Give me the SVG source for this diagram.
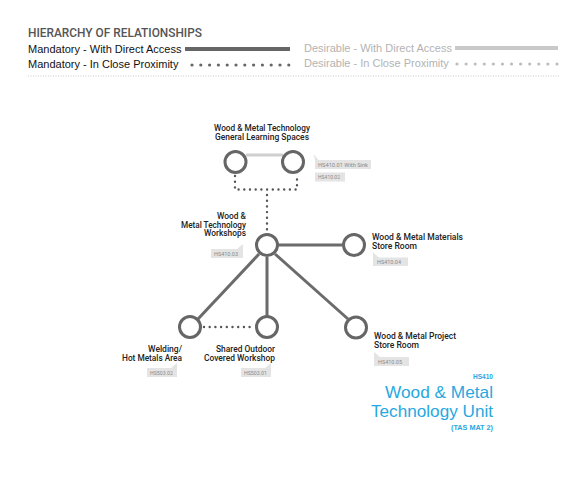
<svg xmlns="http://www.w3.org/2000/svg" width="565" height="490" viewBox="0 0 565 490">
<style>
.leg{font-family:"Liberation Sans",Arial,sans-serif;font-size:11px}
.mand{fill:#111}
.des{fill:#b3b3b3}
.lbl{font-family:Roboto,"Liberation Sans",sans-serif;font-weight:500;font-size:9px;fill:#222}
.tag{fill:#e4e4e4}
.tagt{font-family:Roboto,"Liberation Sans",sans-serif;font-size:5.5px;fill:#8a8a8a}
.node{fill:#fff;stroke:#666;stroke-width:3}
.solid{stroke:#6b6b6b;stroke-width:3;fill:none}
.light{stroke:#cfcfcf;stroke-width:3;fill:none}
.dots{stroke:#555;stroke-width:2.4;stroke-linecap:round;stroke-dasharray:0 5.7;fill:none}
.blue{font-family:"Liberation Sans",Arial,sans-serif;fill:#27a8e0}
</style>
<rect width="565" height="490" fill="#fff"/>
<g id="legend">
<text x="28" y="37" font-family="Roboto,sans-serif" font-weight="500" font-size="12.5" fill="#555" textLength="174" lengthAdjust="spacingAndGlyphs">HIERARCHY OF RELATIONSHIPS</text>
<text class="leg mand" x="28" y="53">Mandatory - With Direct Access</text>
<text class="leg mand" x="28" y="67.5">Mandatory - In Close Proximity</text>
<line x1="185" y1="49" x2="290" y2="49" stroke="#666" stroke-width="4"/>
<line x1="192" y1="65" x2="289" y2="65" stroke="#666" stroke-width="3.2" stroke-linecap="round" stroke-dasharray="0 8.8"/>
<text class="leg des" x="304" y="52">Desirable - With Direct Access</text>
<text class="leg des" x="304" y="66.5">Desirable - In Close Proximity</text>
<line x1="455" y1="48" x2="558" y2="48" stroke="#c8c8c8" stroke-width="4"/>
<line x1="457" y1="64" x2="557" y2="64" stroke="#bdbdbd" stroke-width="3.2" stroke-linecap="round" stroke-dasharray="0 9.09"/>
<line x1="28" y1="76" x2="560" y2="76" stroke="#bbb" stroke-width="0.8" stroke-dasharray="1 1.5"/>
</g>
<g id="connectors">
<line class="light" x1="246" y1="155" x2="283" y2="155"/>
<polyline class="dots" points="235,176 235,189.5 297,189.5 297,176"/>
<line class="dots" x1="267" y1="195" x2="267" y2="230"/>
<line class="solid" x1="278" y1="245" x2="342" y2="245"/>
<line class="solid" x1="259" y1="254" x2="198" y2="319"/>
<line class="solid" x1="267" y1="257" x2="267" y2="316"/>
<line class="solid" x1="275" y1="254" x2="348" y2="319"/>
<line class="dots" x1="204" y1="327" x2="254" y2="327"/>
</g>
<g id="gls">
<circle class="node" cx="235.5" cy="162" r="10.5"/>
<circle class="node" cx="293" cy="162" r="10.5"/>
<text class="lbl" x="262" y="131" text-anchor="middle" textLength="96" lengthAdjust="spacingAndGlyphs">Wood &amp; Metal Technology</text>
<text class="lbl" x="262" y="139.5" text-anchor="middle" textLength="94" lengthAdjust="spacingAndGlyphs">General Learning Spaces</text>
<path class="tag" d="M315,160 h56 v9 h-56 z M315,160 l-1.5,-6 l5,6 z"/>
<text class="tagt" x="318" y="166.8" textLength="50" lengthAdjust="spacingAndGlyphs">HS410.01 With Sink</text>
<rect class="tag" x="315" y="172.5" width="30" height="9"/>
<text class="tagt" x="318" y="179.3" textLength="22" lengthAdjust="spacingAndGlyphs">HS410.02</text>
</g>
<g id="workshops">
<circle class="node" cx="267" cy="245" r="10.5"/>
<text class="lbl" x="246" y="219" text-anchor="end" textLength="29" lengthAdjust="spacingAndGlyphs">Wood &amp;</text>
<text class="lbl" x="246" y="227.5" text-anchor="end" textLength="65" lengthAdjust="spacingAndGlyphs">Metal Technology</text>
<text class="lbl" x="246" y="236" text-anchor="end" textLength="42" lengthAdjust="spacingAndGlyphs">Workshops</text>
<path class="tag" d="M211,249 h32 v9 h-32 z M237,249 l6,-5 v5 z"/>
<text class="tagt" x="214" y="255.8" textLength="24" lengthAdjust="spacingAndGlyphs">HS410.03</text>
</g>
<g id="materials-store">
<circle class="node" cx="354" cy="245" r="10.5"/>
<text class="lbl" x="372" y="239.5" textLength="91" lengthAdjust="spacingAndGlyphs">Wood &amp; Metal Materials</text>
<text class="lbl" x="372" y="248.5" textLength="45" lengthAdjust="spacingAndGlyphs">Store Room</text>
<path class="tag" d="M373,257.5 h35 v8.5 h-35 z M373,257.5 l0,-5 l6,5 z"/>
<text class="tagt" x="377" y="263.8" textLength="24" lengthAdjust="spacingAndGlyphs">HS410.04</text>
</g>
<g id="welding">
<circle class="node" cx="190" cy="327" r="10.5"/>
<text class="lbl" x="182" y="352" text-anchor="end" textLength="34" lengthAdjust="spacingAndGlyphs">Welding/</text>
<text class="lbl" x="182" y="361" text-anchor="end" textLength="60" lengthAdjust="spacingAndGlyphs">Hot Metals Area</text>
<path class="tag" d="M147,368 h30 v9 h-30 z M171,368 l6,-5 v5 z"/>
<text class="tagt" x="150" y="374.8" textLength="23" lengthAdjust="spacingAndGlyphs">HS503.02</text>
</g>
<g id="shared-outdoor">
<circle class="node" cx="267" cy="327" r="10.5"/>
<text class="lbl" x="275" y="352" text-anchor="end" textLength="59" lengthAdjust="spacingAndGlyphs">Shared Outdoor</text>
<text class="lbl" x="275" y="361" text-anchor="end" textLength="71" lengthAdjust="spacingAndGlyphs">Covered Workshop</text>
<path class="tag" d="M241,368 h30 v9 h-30 z M265,368 l6,-5 v5 z"/>
<text class="tagt" x="244" y="374.8" textLength="23" lengthAdjust="spacingAndGlyphs">HS503.01</text>
</g>
<g id="project-store">
<circle class="node" cx="356" cy="327.5" r="10.5"/>
<text class="lbl" x="374" y="338.5" textLength="82" lengthAdjust="spacingAndGlyphs">Wood &amp; Metal Project</text>
<text class="lbl" x="374" y="347.5" textLength="45" lengthAdjust="spacingAndGlyphs">Store Room</text>
<path class="tag" d="M374,357 h35 v9 h-35 z M374,357 l0,-5 l6,5 z"/>
<text class="tagt" x="378" y="363.8" textLength="24" lengthAdjust="spacingAndGlyphs">HS410.05</text>
</g>
<g id="title">
<text class="blue" x="493" y="379" text-anchor="end" font-size="7" font-weight="700" textLength="20" lengthAdjust="spacingAndGlyphs">HS410</text>
<text class="blue" x="493" y="398" text-anchor="end" font-size="16.5" textLength="108" lengthAdjust="spacingAndGlyphs">Wood &amp; Metal</text>
<text class="blue" x="493" y="416.5" text-anchor="end" font-size="16.5" textLength="122" lengthAdjust="spacingAndGlyphs">Technology Unit</text>
<text class="blue" x="493" y="430" text-anchor="end" font-size="7.5" font-weight="700" textLength="42" lengthAdjust="spacingAndGlyphs">(TAS MAT 2)</text>
</g>
</svg>
